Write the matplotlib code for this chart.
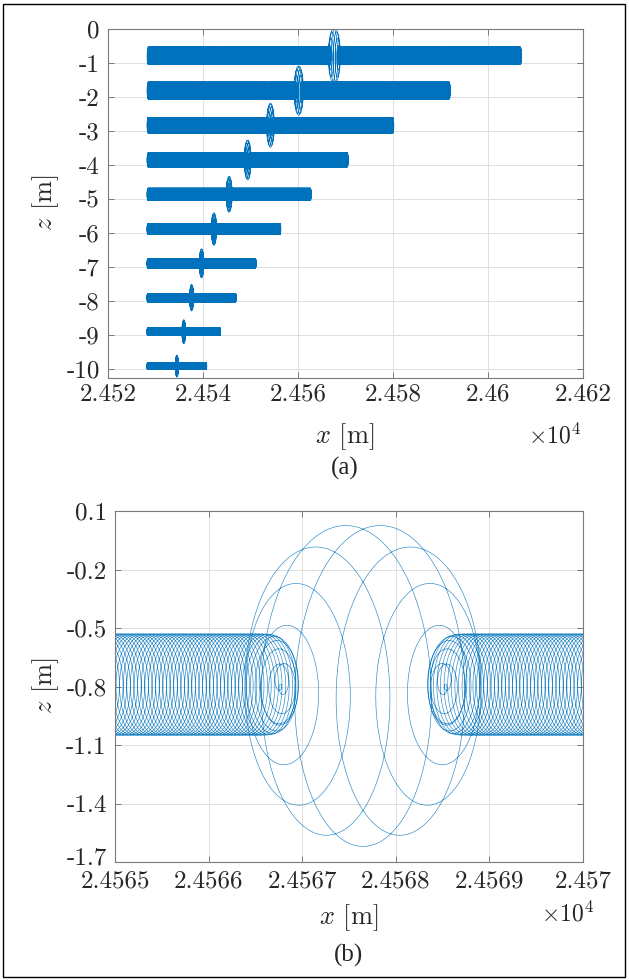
import numpy as np
import matplotlib
matplotlib.use('Agg')
import matplotlib.pyplot as plt
import matplotlib.transforms as mtransforms
from matplotlib.patches import Rectangle

# ---------------- data ----------------
z_levels = [-0.79, -1.81, -2.83, -3.85, -4.86, -5.88, -6.89, -7.90, -8.90, -9.91]
x_start_edge = [24528.2, 24528.2, 24528.2, 24528.2, 24528.2,
                24528.2, 24528.2, 24528.2, 24528.2, 24528.2]
x_end_edge = [24607.1, 24592.1, 24580.2, 24570.6, 24562.8,
              24556.4, 24551.2, 24547.0, 24543.7, 24540.8]
band_radius = [0.26, 0.25, 0.23, 0.205, 0.18, 0.16, 0.14, 0.125, 0.11, 0.10]
pulse_radius = [0.83, 0.73, 0.65, 0.59, 0.53, 0.48, 0.43, 0.39, 0.355, 0.325]
loops_per_side = 1000
pulse_width_loops = 4.3

top_xticks = [24520, 24540, 24560, 24580, 24600, 24620]
top_xticklabels = ['2.452', '2.454', '2.456', '2.458', '2.46', '2.462']
top_yticks = [0, -1, -2, -3, -4, -5, -6, -7, -8, -9, -10]
top_yticklabels = ['0', '-1', '-2', '-3', '-4', '-5', '-6', '-7', '-8', '-9', '-10']
bot_xticks = [24565, 24566, 24567, 24568, 24569, 24570]
bot_xticklabels = ['2.4565', '2.4566', '2.4567', '2.4568', '2.4569', '2.457']
bot_yticks = [0.1, -0.2, -0.5, -0.8, -1.1, -1.4, -1.7]
bot_yticklabels = ['0.1', '-0.2', '-0.5', '-0.8', '-1.1', '-1.4', '-1.7']

# ---------------- style ----------------
plt.rcParams['font.family'] = ['cmr10', 'DejaVu Sans']
plt.rcParams['mathtext.fontset'] = 'cm'
plt.rcParams['axes.unicode_minus'] = False
plt.rcParams['agg.path.chunksize'] = 20000

LINE = '#0072BD'
AXC = '#7a7a7a'
TXT = '#262626'
GRID = '#dedede'

W, H = 629, 980
fig = plt.figure(figsize=(W / 100, H / 100), dpi=100)


def px_axes(l, t, r, b):
    return fig.add_axes([l / W, 1 - b / H, (r - l) / W, (b - t) / H])


def trajectory(z0, xs_edge, xe_edge, ab, ap, n_side, sig, ppl):
    T = 2 * n_side
    t = np.linspace(0, T, T * ppl + 1)
    A = ab - (ab + ap) * np.exp(-((t - T / 2) / sig) ** 2)
    F = np.concatenate([[0.0], np.cumsum(0.5 * (A[1:] ** 2 + A[:-1] ** 2) * np.diff(t))])
    x0 = xs_edge + ab
    x1 = xe_edge - ab
    xd = x0 + (x1 - x0) * F / F[-1]
    th = 2 * np.pi * t
    return xd, xd + A * np.sin(th), z0 + A * np.cos(th)


def style(ax, xpad):
    for s in ax.spines.values():
        s.set_color(AXC)
        s.set_linewidth(0.8)
    ax.tick_params(direction='in', length=4, width=0.7, color=AXC,
                   top=True, right=True, labelcolor=TXT, labelsize=18)
    ax.tick_params(axis='x', pad=xpad)
    ax.tick_params(axis='y', pad=6)
    ax.grid(True, color=GRID, linewidth=0.7)
    ax.set_axisbelow(True)


# ---------------- top panel ----------------
ax1 = px_axes(108, 29, 583, 378)
for i in range(len(z_levels)):
    _, x, z = trajectory(z_levels[i], x_start_edge[i], x_end_edge[i],
                         band_radius[i], pulse_radius[i],
                         loops_per_side, pulse_width_loops, 40)
    ax1.plot(x, z, color=LINE, lw=0.5)
ax1.set_xlim(24520, 24620)
ax1.set_ylim(-10.26, 0)
ax1.set_xticks(top_xticks)
ax1.set_xticklabels(top_xticklabels)
ax1.set_yticks(top_yticks)
ax1.set_yticklabels(top_yticklabels)
style(ax1, 4)

# ---------------- bottom panel ----------------
ax2 = px_axes(115, 511, 583, 862)
xd, x, z = trajectory(z_levels[0], x_start_edge[0], x_end_edge[0],
                      band_radius[0], pulse_radius[0],
                      loops_per_side, pulse_width_loops, 160)
sel = (xd > 24564.0) & (xd < 24571.0)
ax2.plot(x[sel], z[sel], color=LINE, lw=0.45, alpha=0.85)
ax2.set_xlim(24565, 24570)
ax2.set_ylim(-1.7, 0.1)
ax2.set_xticks(bot_xticks)
ax2.set_xticklabels(bot_xticklabels)
ax2.set_yticks(bot_yticks)
ax2.set_yticklabels(bot_yticklabels)
style(ax2, 6)
# lift the lowest y label a little, as in the reference
lab = ax2.get_yticklabels()[-1]
lab.set_transform(lab.get_transform() +
                  mtransforms.ScaledTranslation(0, 6 / 100, fig.dpi_scale_trans))


def ftext(xp, yp, s, **kw):
    fig.text(xp / W, 1 - yp / H, s, color=TXT, **kw)


ftext(345, 437, r'$x$ [m]', fontsize=19, ha='center', va='center')
ftext(528, 436, r'$\times10^{4}$', fontsize=17, ha='left', va='center')
ftext(46, 203, r'$z$ [m]', fontsize=19, ha='center', va='center', rotation=90)
ftext(345, 468, '(a)', fontsize=18, ha='center', va='center', family='Liberation Serif')

ftext(349, 918, r'$x$ [m]', fontsize=19, ha='center', va='center')
ftext(541, 914, r'$\times10^{4}$', fontsize=17, ha='left', va='center')
ftext(46, 686, r'$z$ [m]', fontsize=19, ha='center', va='center', rotation=90)
ftext(349, 955, '(b)', fontsize=18, ha='center', va='center', family='Liberation Serif')

fig.patches.append(Rectangle((3 / W, 3 / H), (W - 7) / W, (H - 7) / H,
                             transform=fig.transFigure, fill=False,
                             edgecolor='black', linewidth=1.0))

fig.savefig('out.png', dpi=100)
